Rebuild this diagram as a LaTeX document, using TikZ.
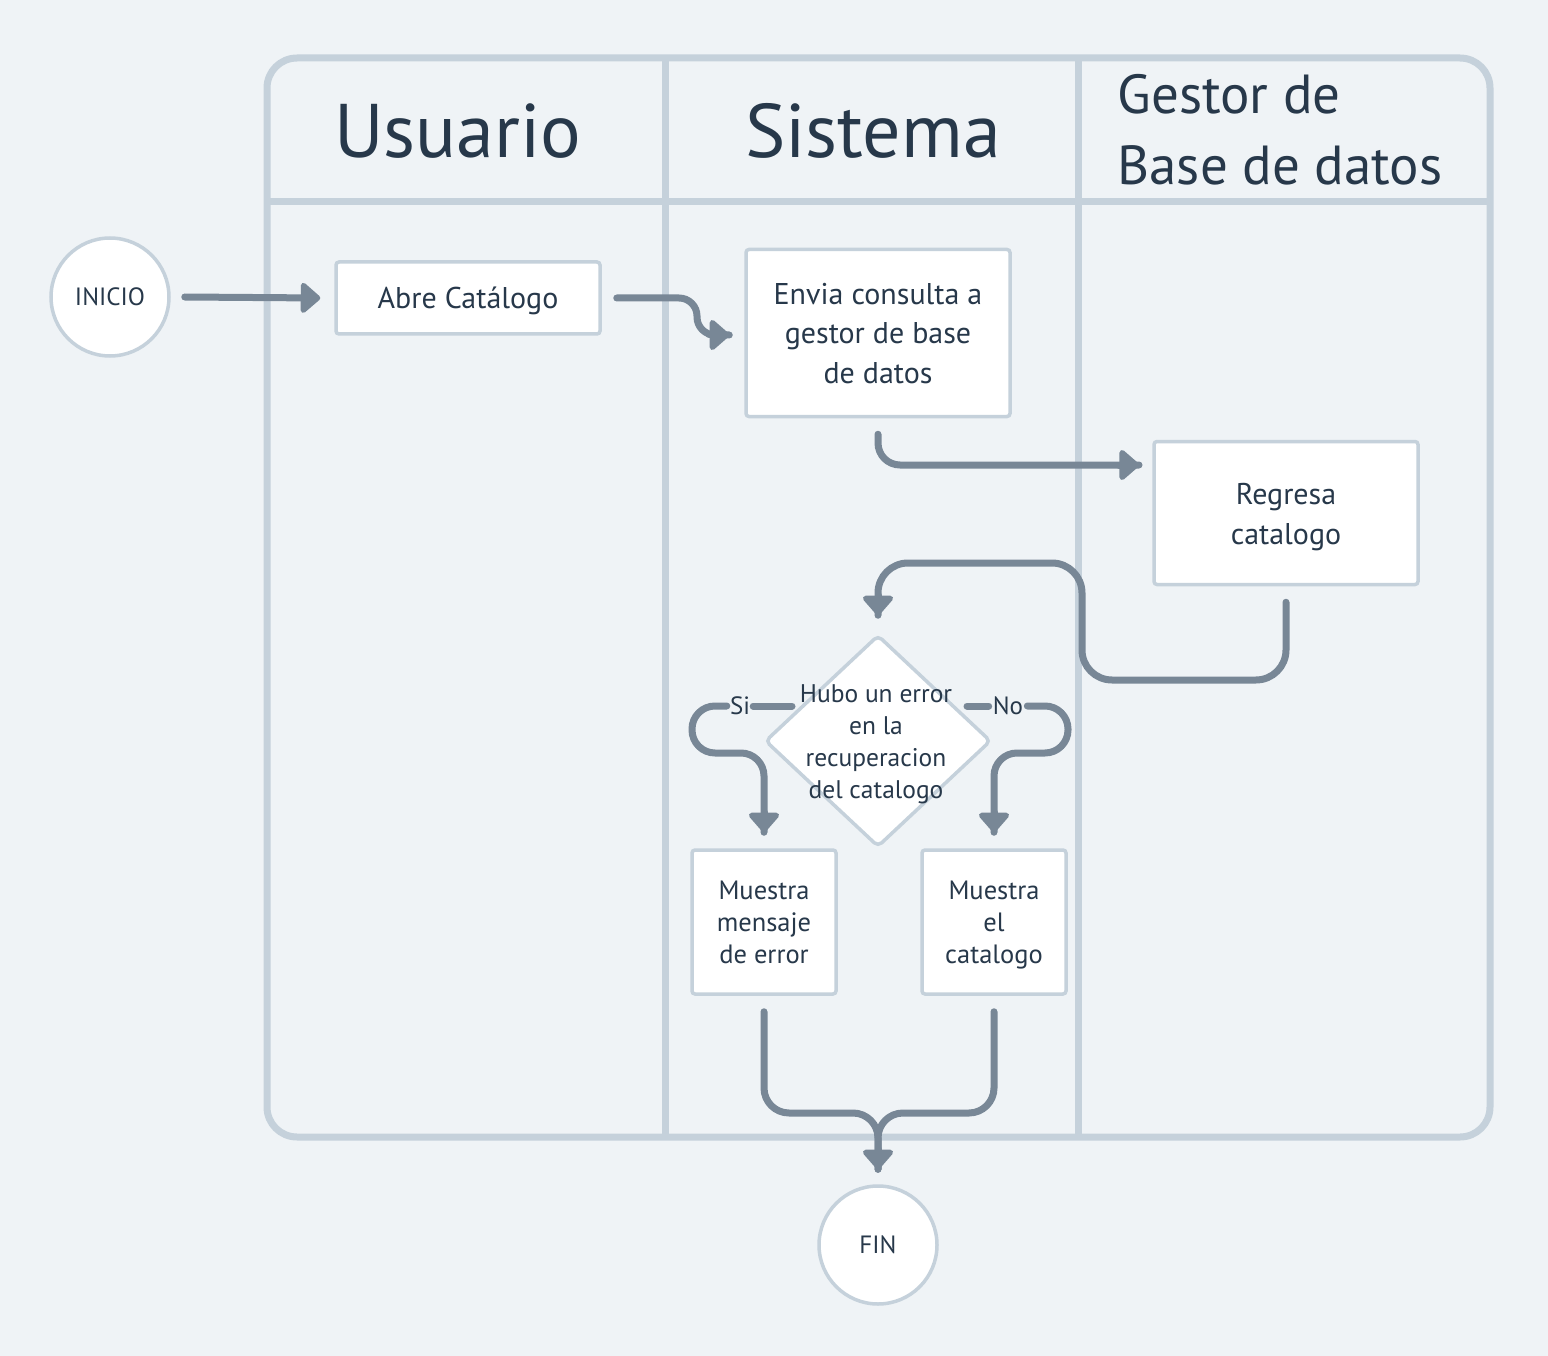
\documentclass[tikz,border=0pt]{standalone}
\usepackage{fontspec}
\setmainfont{PT Sans}
\usetikzlibrary{arrows.meta,shapes.geometric}
\definecolor{bgc}{HTML}{EFF3F6}
\definecolor{lanec}{HTML}{C5D1DB}
\definecolor{arrc}{HTML}{788796}
\definecolor{txtc}{HTML}{27384A}
\newcommand{\mlines}[1]{\raisebox{0pt}[\dimexpr\height+6pt\relax][\depth]{\begin{tabular}{@{}c@{}}#1\end{tabular}}}
\tikzset{
  lane/.style={draw=lanec, line width=7pt},
  box/.style={draw=lanec, fill=white, line width=3.5pt, rounded corners=3pt, text=txtc, align=center, inner sep=0pt, font=\fontsize{30}{40}\selectfont},
  smallbox/.style={box, font=\fontsize{26.5}{32}\selectfont},
  term/.style={draw=lanec, fill=white, line width=3.5pt, circle, minimum size=118pt, inner sep=0pt, text=txtc, font=\fontsize{25}{28}\selectfont},
  decision/.style={diamond, draw=lanec, fill=white, line width=3.5pt, rounded corners=5pt, minimum width=226pt, minimum height=212pt, inner sep=0pt},
  flowline/.style={draw=arrc, line width=7pt, line cap=round, rounded corners=#1},
  flowline/.default=22pt,
  tipline/.style={draw=arrc, line width=7pt, line cap=round, -{Triangle[length=21pt,width=35pt,round]}},
  lbl/.style={text=txtc, inner xsep=3pt, inner ysep=3pt, font=\fontsize{25}{28}\selectfont},
  head/.style={text=txtc, font=\fontsize{76}{80}\selectfont},
}
\begin{document}
\begin{tikzpicture}[x=1pt,y=-1pt]
\fill[bgc] (0,0) rectangle (1548,1356);
\useasboundingbox (0,0) rectangle (1548,1356);
% pool
\draw[lane, rounded corners=30pt] (267,58) rectangle (1490,1137);
\draw[lane] (267,202) -- (1490,202);
\draw[lane] (665,58) -- (665,1137);
\draw[lane] (1078,58) -- (1078,1137);
\node[head] (hU) at (458,131) {Usuario};
\node[head] (hS) at (873,131) {Sistema};
\node[text=txtc, font=\fontsize{55}{71}\selectfont, align=left, anchor=west] (hG) at (1114,130) {Gestor de\\Base de datos};
% nodes
\node[term] (inicio) at (110,297) {INICIO};
\node[box, minimum width=264pt, minimum height=72pt] (abre) at (468,298) {\mlines{Abre Catálogo}};
\node[box, minimum width=264pt, minimum height=167pt] (envia) at (878,333) {\mlines{Envia consulta a\\gestor de base\\de datos}};
\node[box, minimum width=264pt, minimum height=143pt] (regresa) at (1286,513) {\mlines{Regresa\\catalogo}};
\node[decision] (dec) at (878,741) {};
\node[text=txtc, align=center, font=\fontsize{25.5}{32}\selectfont] (dect) at (876,744) {Hubo un error\\en la\\recuperacion\\del catalogo};
\node[smallbox, minimum width=144pt, minimum height=144pt] (err) at (764,922) {\mlines{Muestra\\mensaje\\de error}};
\node[smallbox, minimum width=144pt, minimum height=144pt] (cat) at (994,922) {\mlines{Muestra\\el\\catalogo}};
\node[term] (fin) at (878,1245) {FIN};
% labels
\node[lbl] (si) at (740,706) {Si};
\node[lbl, inner xsep=4pt] (no) at (1008,706) {No};
% coordinates for arrow ends
\coordinate (eAbre) at ([xshift=-14pt]abre.west);
\coordinate (eEnvia) at ([xshift=-15pt,yshift=-2pt]envia.west);
\coordinate (eReg) at (1139,465);
\coordinate (eDec) at ([yshift=18pt]dec.north);
\coordinate (eErr) at ([yshift=16pt]err.north);
\coordinate (eCat) at ([yshift=16pt]cat.north);
\coordinate (eFin) at ([yshift=15pt]fin.north);
% connectors
\draw[tipline] ([xshift=14pt]inicio.east) -- (eAbre);
\draw[flowline=18pt] ([xshift=15pt]abre.east) -- (697,298) -- (697,335) -- (eEnvia);
\draw[tipline] ([xshift=-20pt]eEnvia) -- (eEnvia);
\draw[flowline] ([yshift=-16pt]envia.south) -- (878,465) -- (eReg);
\draw[tipline] ([xshift=-20pt]eReg) -- (eReg);
\draw[flowline=30pt] ([yshift=-16pt]regresa.south) -- (1286,680) -- (1082,680) -- (1082,563) -- (878,563) -- (eDec);
\draw[tipline] ([yshift=20pt]eDec) -- (eDec);
\draw[flowline] (792,706) -- (si.east);
\draw[flowline=23pt] (si.west) -- (692,706) -- (692,753) -- (764,753) -- (eErr);
\draw[tipline] ([yshift=20pt]eErr) -- (eErr);
\draw[flowline] (967,706) -- (no.west);
\draw[flowline=23pt] (no.east) -- (1068,706) -- (1068,753) -- (994,753) -- (eCat);
\draw[tipline] ([yshift=20pt]eCat) -- (eCat);
\draw[flowline=25pt] ([yshift=-16pt]err.south) -- (764,1113) -- (878,1113) -- (eFin);
\draw[flowline=25pt] ([yshift=-16pt]cat.south) -- (994,1113) -- (878,1113) -- (eFin);
\draw[tipline] ([yshift=20pt]eFin) -- (eFin);
\end{tikzpicture}
\end{document}
